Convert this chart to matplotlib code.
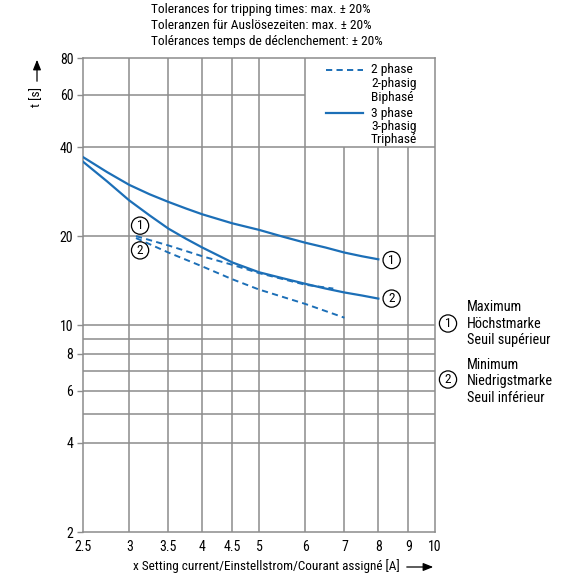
import matplotlib
matplotlib.use("Agg")
import matplotlib.pyplot as plt
from matplotlib import font_manager as fm
from matplotlib.lines import Line2D

# ---------------- data ----------------
x_3ph = [2.5, 2.75, 3.0, 3.25, 3.5, 3.75, 4.0, 4.5, 5.0, 5.5, 6.0, 6.5, 7.0, 7.5, 8.0]
y_3ph_max = [37.0, 32.9, 29.8, 27.7, 26.1, 24.8, 23.7, 22.1, 21.0, 19.9, 19.0, 18.3, 17.6, 17.1, 16.7]
y_3ph_min = [35.7, 30.6, 26.4, 23.5, 21.2, 19.6, 18.3, 16.3, 15.1, 14.4, 13.8, 13.3, 12.9, 12.6, 12.3]

x_2ph_max = [3.08, 3.5, 4.0, 4.5, 5.0, 6.0, 6.7]
y_2ph_max = [20.0, 18.6, 17.1, 16.0, 15.0, 13.7, 13.3]
x_2ph_min = [3.08, 3.5, 4.0, 4.5, 5.0, 6.0, 7.0]
y_2ph_min = [19.7, 17.6, 15.8, 14.3, 13.2, 11.8, 10.6]

x_ticks = [2.5, 3, 3.5, 4, 4.5, 5, 6, 7, 8, 9, 10]
x_ticklabels = ["2.5", "3", "3.5", "4", "4.5", "5", "6", "7", "8", "9", "10"]
y_ticks = [2, 4, 6, 8, 10, 20, 40, 60, 80]
y_ticklabels = ["2", "4", "6", "8", "10", "20", "40", "60", "80"]

title_lines = ["Tolerances for tripping times: max. \u00b1 20%",
               "Toleranzen f\u00fcr Ausl\u00f6sezeiten: max. \u00b1 20%",
               "Tol\u00e9rances temps de d\u00e9clenchement: \u00b1 20%"]
legend_2ph = "2 phase\n2-phasig\nBiphas\u00e9"
legend_3ph = "3 phase\n3-phasig\nTriphas\u00e9"
note_max = "Maximum\nH\u00f6chstmarke\nSeuil sup\u00e9rieur"
note_min = "Minimum\nNiedrigstmarke\nSeuil inf\u00e9rieur"
xlabel = "x Setting current/Einstellstrom/Courant assign\u00e9 [A]"
ylabel = "t [s]"

# grid positions
vgrid_full = [3, 3.5, 4, 4.5, 5, 6]
vgrid_low = [7, 8, 9]
hgrid_full = [4, 5, 6, 7, 8, 9, 10, 20, 40]
hgrid_left = [60]

# ---------------- style ----------------
names = {f.name for f in fm.fontManager.ttflist}
fam = None
for cand in ["Liberation Sans Narrow", "Roboto Condensed", "Open Sans Condensed",
             "Liberation Sans"]:
    if cand in names:
        fam = cand
        break
if fam is None:
    fam = "DejaVu Sans"
plt.rcParams["font.family"] = [fam, "DejaVu Sans"]

blue = "#1c6fb7"
grid_c = "#8c8c8c"

fig = plt.figure(figsize=(5.8, 5.8), dpi=100)
ax = fig.add_axes([83 / 580, 1 - 532 / 580, (435 - 83) / 580, (532 - 58) / 580])
ax.set_xscale("log")
ax.set_yscale("log")
ax.set_xlim(2.5, 10)
ax.set_ylim(2, 80)

# manual grid
ax.vlines(vgrid_full, 2, 80, color=grid_c, lw=1.1, zorder=1)
ax.vlines(vgrid_low, 2, 40, color=grid_c, lw=1.1, zorder=1)
ax.hlines(hgrid_full, 2.5, 10, color=grid_c, lw=1.1, zorder=1)
ax.hlines(hgrid_left, 2.5, 6, color=grid_c, lw=1.1, zorder=1)
for s in ax.spines.values():
    s.set_color(grid_c)
    s.set_linewidth(1.1)

# curves
ax.plot(x_3ph, y_3ph_max, color=blue, lw=1.6, zorder=3)
ax.plot(x_3ph, y_3ph_min, color=blue, lw=1.6, zorder=3)
ax.plot(x_2ph_max, y_2ph_max, color=blue, lw=1.4, dashes=(3.2, 2.2), zorder=3)
ax.plot(x_2ph_min, y_2ph_min, color=blue, lw=1.4, dashes=(3.2, 2.2), zorder=3)

# circled markers
circ = dict(boxstyle="circle,pad=0.16", fc="white", ec="black", lw=0.9)
for (cx, cy, t) in [(3.13, 21.7, "1"), (3.13, 17.9, "2"),
                    (8.43, 16.6, "1"), (8.43, 12.3, "2")]:
    ax.text(cx, cy, t, ha="center", va="center", fontsize=9.5, bbox=circ, zorder=5)

# ticks
ax.set_xticks(x_ticks)
ax.set_xticklabels(x_ticklabels)
ax.set_yticks(y_ticks)
ax.set_yticklabels(y_ticklabels)
ax.xaxis.set_minor_locator(matplotlib.ticker.NullLocator())
ax.yaxis.set_minor_locator(matplotlib.ticker.NullLocator())
ax.tick_params(axis="x", length=0, pad=6, labelsize=10)
ax.tick_params(axis="y", length=4, width=1.0, color=grid_c, pad=3, labelsize=10)

# legend (manual, in axes area top right)
ax.add_line(Line2D([326 / 580, 363 / 580], [1 - 70 / 580] * 2, transform=fig.transFigure,
                   color=blue, lw=1.4, dashes=(3.2, 2.2), zorder=4))
ax.add_line(Line2D([326 / 580, 363 / 580], [1 - 113 / 580] * 2, transform=fig.transFigure,
                   color=blue, lw=1.6, zorder=4))
fig.text(371 / 580, 1 - 83.5 / 580, legend_2ph, ha="left", va="center",
         fontsize=9.7, linespacing=1.05)
fig.text(371 / 580, 1 - 126.5 / 580, legend_3ph, ha="left", va="center",
         fontsize=9.7, linespacing=1.05)

# title lines
for i, t in enumerate(title_lines):
    fig.text(151 / 580, 1 - (10 + 15.7 * i) / 580, t, ha="left", va="center", fontsize=9.6)

# right side notes
fig.text(448 / 580, 1 - 323.5 / 580, "1", ha="center", va="center", fontsize=9.5, bbox=circ)
fig.text(448 / 580, 1 - 379.5 / 580, "2", ha="center", va="center", fontsize=9.5, bbox=circ)
fig.text(467 / 580, 1 - 323.5 / 580, note_max, ha="left", va="center",
         fontsize=10.3, linespacing=1.2)
fig.text(467 / 580, 1 - 381.5 / 580, note_min, ha="left", va="center",
         fontsize=10.3, linespacing=1.2)

# axis labels with arrows
fig.text(37 / 580, 1 - 97 / 580, ylabel, rotation=90, ha="center", va="center", fontsize=9.6)
fig.text(133 / 580, 1 - 566 / 580, xlabel, ha="left", va="center", fontsize=9.5)
fig.add_artist(matplotlib.patches.FancyArrowPatch(
    (37 / 580, 1 - 84 / 580), (37 / 580, 1 - 57 / 580), transform=fig.transFigure,
    arrowstyle="-|>,head_length=6,head_width=2.4", color="black", lw=0.9,
    mutation_scale=1))
fig.add_artist(matplotlib.patches.FancyArrowPatch(
    (404 / 580, 1 - 567 / 580), (436 / 580, 1 - 567 / 580), transform=fig.transFigure,
    arrowstyle="-|>,head_length=6,head_width=2.4", color="black", lw=0.9,
    mutation_scale=1))

fig.savefig("out.png", dpi=100)
